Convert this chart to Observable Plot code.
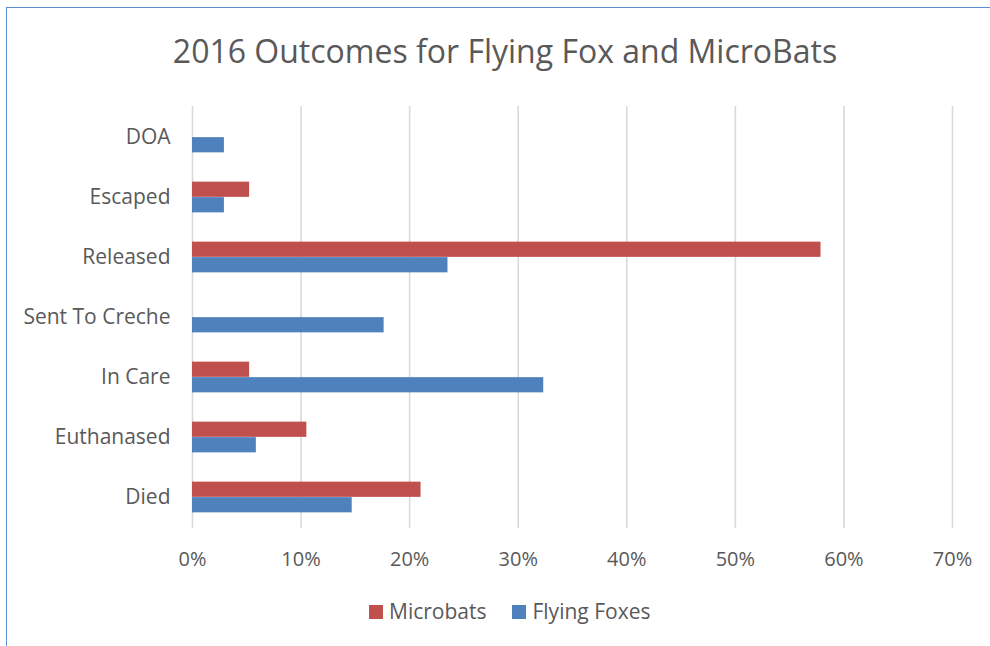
<!DOCTYPE html>
<html>
<head>
<meta charset="utf-8">
<script src="https://cdn.jsdelivr.net/npm/d3@7"></script>
<script src="https://cdn.jsdelivr.net/npm/@observablehq/plot@0.6"></script>
<style>
  html, body { margin: 0; padding: 0; background: #fff; overflow: hidden; }
  #wrap { position: relative; width: 990px; height: 646px; overflow: hidden; font-family: "Open Sans", sans-serif; color: #595959; }
  #frame { position: absolute; left: 5.5px; top: 6.5px; width: 1100px; height: 800px; border-left: 1.5px solid #5b8fd1; border-top: 1.5px solid #5b8fd1; box-sizing: border-box; }
  #title { position: absolute; left: 0; width: 1010px; top: 34.6px; text-align: center; font-size: 32px; line-height: 32px; white-space: nowrap; }
  #chart { position: absolute; left: 0; top: 90px; }
  #legend { position: absolute; left: 369px; top: 601px; display: flex; align-items: center; font-size: 21px; line-height: 21px; white-space: nowrap; }
  #legend .item { display: flex; align-items: center; margin-right: 26px; }
  #legend .sw { width: 14px; height: 14px; margin-right: 6px; display: inline-block; }
</style>
</head>
<body>
<div id="wrap">
  <div id="frame"></div>
  <div id="title"></div>
  <div id="chart"></div>
  <div id="legend"></div>
</div>
<script>
const titleText = "2016 Outcomes for Flying Fox and MicroBats";
const categories = ["DOA", "Escaped", "Released", "Sent To Creche", "In Care", "Euthanased", "Died"];
const seriesNames = ["Microbats", "Flying Foxes"];
const microbats = [0, 5.26, 57.89, 0, 5.26, 10.53, 21.05];
const flyingFoxes = [2.94, 2.94, 23.53, 17.65, 32.35, 5.88, 14.71];
const xTicks = [0, 10, 20, 30, 40, 50, 60, 70];
const seriesColors = ["#C0504D", "#4F81BD"];

const table = [];
categories.forEach((c, i) => {
  table.push({category: c, series: seriesNames[0], value: microbats[i]});
  table.push({category: c, series: seriesNames[1], value: flyingFoxes[i]});
});

document.getElementById("title").textContent = titleText;

const H = 490, MT = 16, MB = 52;
const step = (H - MT - MB) / categories.length;
const barH = 15.5;

const chart = Plot.plot({
  width: 990,
  height: H,
  marginLeft: 192,
  marginRight: 38,
  marginTop: MT,
  marginBottom: MB,
  style: {fontFamily: "Open Sans, sans-serif", color: "#595959", background: "transparent", overflow: "visible"},
  x: {domain: [0, 70]},
  y: {domain: categories, padding: 0},
  color: {domain: seriesNames, range: seriesColors},
  marks: [
    Plot.ruleX(xTicks, {stroke: "#d9d9d9", strokeWidth: 1.6}),
    Plot.barX(table.filter(d => d.series === seriesNames[0]), {
      x: "value", y: "category", fill: "series",
      insetTop: step / 2 - barH, insetBottom: step / 2
    }),
    Plot.barX(table.filter(d => d.series === seriesNames[1]), {
      x: "value", y: "category", fill: "series",
      insetTop: step / 2, insetBottom: step / 2 - barH
    }),
    Plot.axisX({ticks: xTicks, tickFormat: d => d + "%", tickSize: 0, tickPadding: 23, fontSize: 20, label: null}),
    Plot.axisY({tickSize: 0, tickPadding: 22, fontSize: 21, label: null})
  ]
});
document.getElementById("chart").appendChild(chart);

const legend = document.getElementById("legend");
seriesNames.forEach((name, i) => {
  const item = document.createElement("div");
  item.className = "item";
  const sw = document.createElement("span");
  sw.className = "sw";
  sw.style.background = seriesColors[i];
  const label = document.createElement("span");
  label.textContent = name;
  item.appendChild(sw);
  item.appendChild(label);
  legend.appendChild(item);
});
</script>
</body>
</html>
